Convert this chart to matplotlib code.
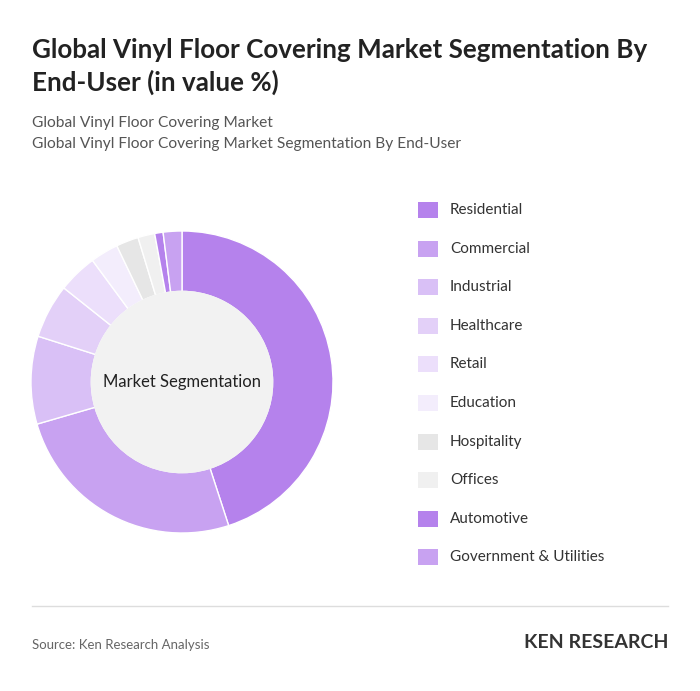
import matplotlib
matplotlib.use("Agg")
import matplotlib.pyplot as plt
from matplotlib.patches import Circle, Rectangle

plt.rcParams['font.family'] = ['Lato', 'DejaVu Sans']

categories = ["Residential", "Commercial", "Industrial", "Healthcare", "Retail",
              "Education", "Hospitality", "Offices", "Automotive", "Government & Utilities"]
values = [45, 25.5, 9.4, 5.8, 4.2, 3.0, 2.4, 1.8, 0.9, 2.0]
colors = ["#b582ec", "#c8a2f1", "#d9c0f6", "#e3d0f8", "#ecdffb",
          "#f3edfc", "#e6e6e6", "#f0f0f0", "#b582ec", "#c8a2f1"]

fig = plt.figure(figsize=(7, 6.91), dpi=100)
fig.patch.set_facecolor("white")

fig.text(32/700, 1-50/691, "Global Vinyl Floor Covering Market Segmentation By", fontsize=18.7, fontweight="bold", color="#222222", va="center")
fig.text(32/700, 1-82/691, "End-User (in value %)", fontsize=18.7, fontweight="bold", color="#222222", va="center")
fig.text(32/700, 1-123/691, "Global Vinyl Floor Covering Market", fontsize=11.2, color="#555555", va="center")
fig.text(32/700, 1-144/691, "Global Vinyl Floor Covering Market Segmentation By End-User", fontsize=11.2, color="#555555", va="center")

ax = fig.add_axes([(182-151)/700, 1-(382+151)/691, 302/700, 302/691])
ax.pie(values, colors=colors, startangle=90, counterclock=False, radius=1,
       wedgeprops=dict(width=0.4, edgecolor="white", linewidth=1))
ax.add_patch(Circle((0, 0), 0.6, color="#f2f2f2", zorder=3))
ax.text(0, 0, "Market Segmentation", ha="center", va="center", fontsize=12, color="#222222", zorder=4)
ax.set_xlim(-1, 1); ax.set_ylim(-1, 1); ax.set_aspect("equal")

for i, (c, col) in enumerate(zip(categories, colors)):
    y = 210 + i * 38.6
    fig.patches.append(Rectangle((418/700, 1-(y+8)/691), 20/700, 16/691, transform=fig.transFigure,
                                 facecolor=col, edgecolor="none", figure=fig))
    fig.text(450/700, 1-y/691, c, fontsize=11, color="#333333", va="center")

fig.lines.append(plt.Line2D([32/700, 668/700], [1-606/691, 1-606/691], transform=fig.transFigure, color="#dddddd", lw=1))
fig.text(32/700, 1-645/691, "Source: Ken Research Analysis", fontsize=9.5, color="#666666", va="center")
fig.text(668/700, 1-643/691, "KEN RESEARCH", fontsize=14, fontweight="bold", color="#333333", va="center", ha="right")

fig.savefig("out.png", dpi=100)
